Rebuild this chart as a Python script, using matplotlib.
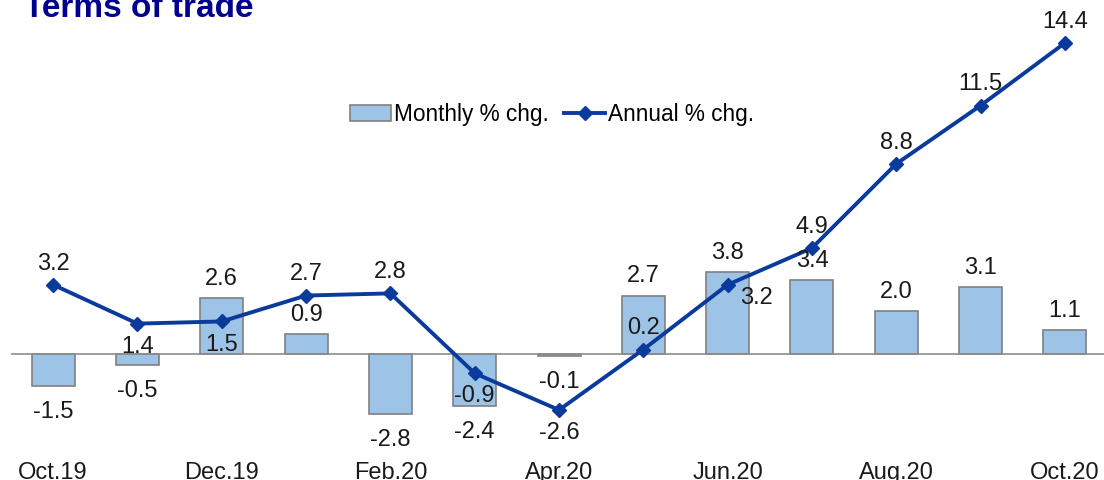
import matplotlib.pyplot as plt

plt.rcParams["font.family"] = ["Liberation Sans", "DejaVu Sans"]

months = ["Oct.19", "Nov.19", "Dec.19", "Jan.20", "Feb.20", "Mar.20", "Apr.20",
          "May.20", "Jun.20", "Jul.20", "Aug.20", "Sep.20", "Oct.20"]
monthly = [-1.5, -0.5, 2.6, 0.9, -2.8, -2.4, -0.1, 2.7, 3.8, 3.4, 2.0, 3.1, 1.1]
annual = [3.2, 1.4, 1.5, 2.7, 2.8, -0.9, -2.6, 0.2, 3.2, 4.9, 8.8, 11.5, 14.4]

# where each annual label sits relative to its marker
annual_label_side = ["up", "down", "down", "up", "up", "down", "down",
                     "up", "right", "up", "up", "up", "up"]

bar_color = "#9dc3e6"
line_color = "#0a3a9c"
text_color = "#1a1a1a"
fs = 17

fig = plt.figure(figsize=(11.04, 4.81), dpi=100)
ax = fig.add_axes([11 / 1104, 0.0603, 0.9928, 0.9202])

x = list(range(len(months)))
bars = ax.bar(x, monthly, width=0.51, color=bar_color, edgecolor="#808080",
              linewidth=1.2, zorder=2, label="Monthly % chg.")
line, = ax.plot(x, annual, color=line_color, linewidth=2.8, marker="D",
                markersize=7.5, zorder=4, label="Annual % chg.")
ax.axhline(0, color="#8c8c8c", linewidth=1.2, zorder=3)

# bar labels
for xi, v in zip(x, monthly):
    dy = 14.5 if v >= 0 else -18
    ax.annotate(f"{v:.1f}", (xi, v), xytext=(0, dy), textcoords="offset points",
                ha="center", va="center", fontsize=fs, color=text_color, zorder=5)

# line labels
offsets = {"up": (0, 16), "down": (0, -16), "right": (21, -9)}
for xi, v, side in zip(x, annual, annual_label_side):
    ax.annotate(f"{v:.1f}", (xi, v), xytext=offsets[side], textcoords="offset points",
                ha="center", va="center", fontsize=fs, color=text_color, zorder=6)

ax.set_xlim(-0.5, 12.5)
ax.set_ylim(-4.5, 16)
ax.set_xticks(x[::2])
ax.set_xticklabels(months[::2], fontsize=fs, color=text_color)
ax.tick_params(axis="x", length=0, pad=7)
ax.set_yticks([])
for s in ax.spines.values():
    s.set_visible(False)

fig.legend(handles=[bars, line], loc="center", bbox_to_anchor=(0.5, 1 - 115 / 481),
           ncol=2, frameon=False, fontsize=16.3, handlelength=1.8,
           handletextpad=0.12, columnspacing=0.7)

fig.text(24 / 1104, 1 - 17 / 481, "Terms of trade", fontsize=24,
         fontweight="bold", color="#00008f", ha="left", va="baseline")

fig.savefig("out.png", dpi=100)
